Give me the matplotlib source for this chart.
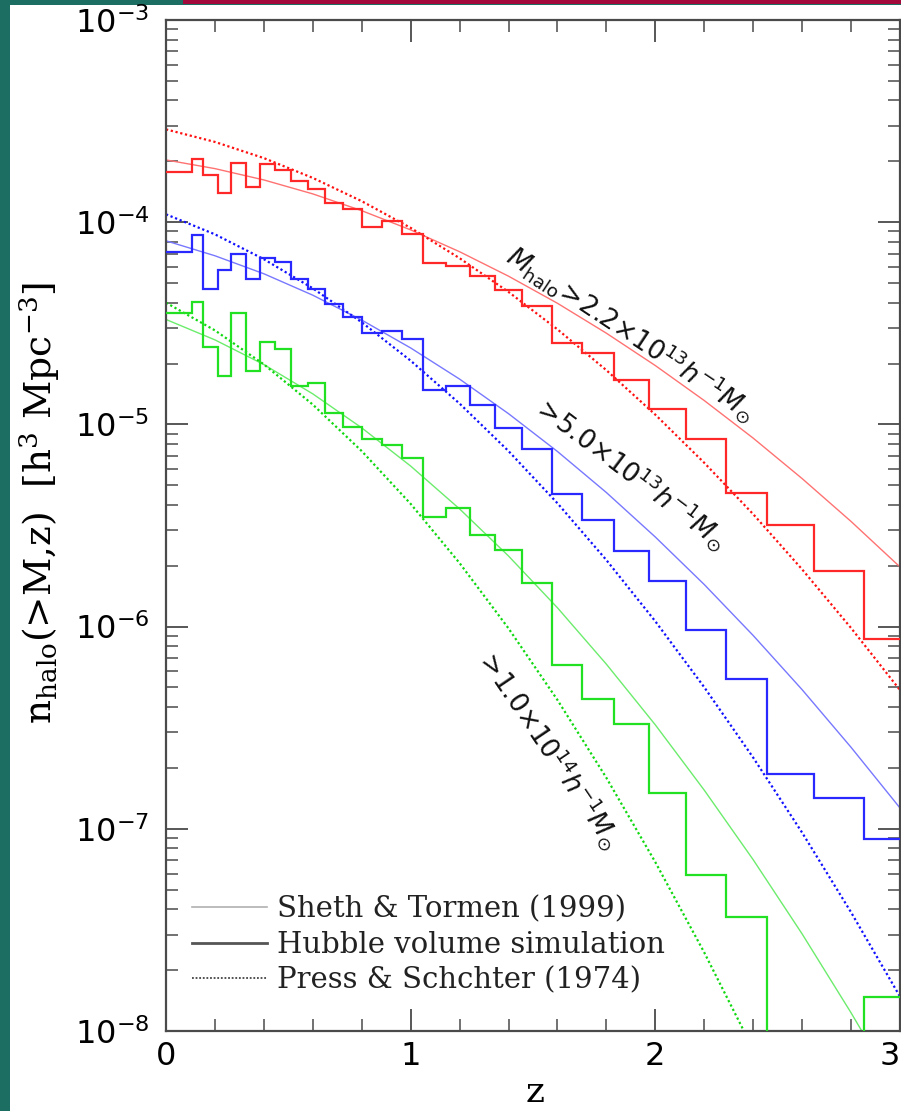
import matplotlib
matplotlib.use("Agg")
import matplotlib.pyplot as plt
from matplotlib.ticker import FixedLocator, NullFormatter, LogLocator, MultipleLocator
from matplotlib.lines import Line2D
from matplotlib.patches import Rectangle
import numpy as np

# ---------------- data ----------------
# redshift bin edges of the simulation histograms
z_edges = [0.000, 0.106, 0.151, 0.212, 0.265, 0.327, 0.384, 0.445, 0.510, 0.580,
           0.649, 0.722, 0.800, 0.882, 0.963, 1.049, 1.143, 1.241, 1.343, 1.453,
           1.576, 1.702, 1.833, 1.976, 2.127, 2.290, 2.457, 2.649, 2.853, 3.060]

# log10 n_halo(>M,z) of the Hubble volume simulation (-12 = empty bin)
log_sim_22e13 = [-3.750, -3.689, -3.767, -3.856, -3.706, -3.824, -3.714, -3.742, -3.796, -3.836,
                 -3.904, -3.936, -4.025, -3.994, -4.060, -4.200, -4.217, -4.266, -4.333, -4.412,
                 -4.597, -4.648, -4.780, -4.924, -5.072, -5.339, -5.497, -5.725, -6.061]
log_sim_50e13 = [-4.146, -4.063, -4.332, -4.236, -4.157, -4.280, -4.175, -4.195, -4.282, -4.332,
                 -4.405, -4.470, -4.549, -4.537, -4.579, -4.830, -4.810, -4.904, -5.018, -5.123,
                 -5.344, -5.473, -5.626, -5.774, -6.017, -6.259, -6.729, -6.848, -7.050]
log_sim_10e14 = [-4.448, -4.393, -4.615, -4.761, -4.449, -4.736, -4.592, -4.626, -4.810, -4.797,
                 -4.942, -5.015, -5.071, -5.100, -5.165, -5.456, -5.411, -5.547, -5.621, -5.786,
                 -6.190, -6.356, -6.482, -6.823, -7.229, -7.436, -12.0, -12.0, -7.832]

# analytic curves, sampled at these redshifts
z_curve = [0.0, 0.2, 0.4, 0.6, 0.8, 1.0, 1.2, 1.4, 1.6, 1.8, 2.0, 2.2, 2.4, 2.6, 2.8, 3.0]

log_st_22e13 = [-3.692, -3.735, -3.791, -3.860, -3.943, -4.038, -4.146, -4.267, -4.401, -4.549,
                -4.709, -4.882, -5.068, -5.268, -5.480, -5.705]
log_ps_22e13 = [-3.541, -3.603, -3.683, -3.781, -3.896, -4.028, -4.178, -4.345, -4.530, -4.732,
                -4.952, -5.190, -5.444, -5.717, -6.007, -6.314]
log_st_50e13 = [-4.092, -4.166, -4.255, -4.361, -4.484, -4.622, -4.776, -4.947, -5.134, -5.337,
                -5.557, -5.792, -6.044, -6.312, -6.597, -6.897]
log_ps_50e13 = [-3.961, -4.060, -4.183, -4.327, -4.495, -4.685, -4.897, -5.132, -5.390, -5.671,
                -5.974, -6.300, -6.648, -7.019, -7.413, -7.830]
log_st_10e14 = [-4.481, -4.582, -4.704, -4.849, -5.017, -5.206, -5.418, -5.651, -5.907, -6.186,
                -6.486, -6.809, -7.153, -7.520, -7.910, -8.321]
log_ps_10e14 = [-4.398, -4.535, -4.703, -4.902, -5.132, -5.393, -5.686, -6.009, -6.363, -6.748,
                -7.165, -7.612, -8.091, -8.600, -9.130, -9.680]

y_tick_exponents = [-3, -4, -5, -6, -7, -8]
x_tick_labels = ["0", "1", "2", "3"]
legend_labels = ["Sheth & Tormen (1999)", "Hubble volume simulation", "Press & Schchter (1974)"]
curve_labels = [r"$M_{\rm halo}\!>\!2.2{\times}10^{13}h^{-1}M_{\odot}$",
                r"$>\!5.0{\times}10^{13}h^{-1}M_{\odot}$",
                r"$>\!1.0{\times}10^{14}h^{-1}M_{\odot}$"]

# ---------------- figure ----------------
W, H = 901, 1111
fig = plt.figure(figsize=(W / 100, H / 100), dpi=100)
fig.patch.set_facecolor("white")

# decorative frame of the slide
fig.add_artist(Rectangle((0, 1 - 5 / H), 1, 5 / H, transform=fig.transFigure,
                         facecolor="#1d6e62", edgecolor="none", zorder=0))
fig.add_artist(Rectangle((183 / W, 1 - 3.5 / H), 1, 3.5 / H, transform=fig.transFigure,
                         facecolor="#a10a3a", edgecolor="none", zorder=1))
fig.add_artist(Rectangle((0, 0), 10 / W, 1, transform=fig.transFigure,
                         facecolor="#1d6e62", edgecolor="none", zorder=0))

ax = fig.add_axes([166 / W, 80 / H, 734 / W, 1011 / H])
ax.set_yscale("log")
ax.set_xlim(0, 3)
ax.set_ylim(1e-8, 1e-3)

sets = [
    (log_sim_22e13, log_st_22e13, log_ps_22e13, "#ff2828", "#ff7272", "#ff1010"),
    (log_sim_50e13, log_st_50e13, log_ps_50e13, "#2828ff", "#7878ff", "#1010ff"),
    (log_sim_10e14, log_st_10e14, log_ps_10e14, "#22e022", "#6cec6c", "#10d810"),
]
for sim, st, ps, c_sim, c_st, c_ps in sets:
    ax.plot(z_curve, 10 ** np.array(st), color=c_st, lw=1.0, zorder=2)
    ax.plot(z_curve, 10 ** np.array(ps), color=c_ps, lw=1.6, ls=(0, (1, 1.2)), zorder=2)
    ax.stairs(10 ** np.array(sim), z_edges, baseline=None, color=c_sim, lw=1.6, zorder=3)

# curve labels
ax.text(1.902, 2.8e-5, curve_labels[0], rotation=-33.5, fontsize=19,
        ha="center", va="center", color="#111111", family="DejaVu Sans")
ax.text(1.898, 5.75e-6, curve_labels[1], rotation=-37, fontsize=19,
        ha="center", va="center", color="#111111", family="DejaVu Sans")
ax.text(1.563, 2.51e-7, curve_labels[2], rotation=-56, fontsize=19,
        ha="center", va="center", color="#111111", family="DejaVu Sans")

# ticks
frame_col = "#4a4a4a"
for s in ax.spines.values():
    s.set_color(frame_col)
    s.set_linewidth(1.6)
ax.yaxis.set_major_locator(FixedLocator([10.0 ** e for e in y_tick_exponents]))
ax.yaxis.set_minor_locator(LogLocator(base=10, subs=np.arange(2, 10), numticks=20))
ax.yaxis.set_minor_formatter(NullFormatter())
ax.set_yticklabels([r"$10^{%d}$" % e for e in y_tick_exponents])
ax.xaxis.set_major_locator(FixedLocator([0, 1, 2, 3]))
ax.xaxis.set_minor_locator(MultipleLocator(0.2))
ax.set_xticklabels(x_tick_labels)
ax.tick_params(which="both", direction="in", top=True, right=True, color=frame_col)
ax.tick_params(which="major", length=16, width=1.3, labelsize=23, pad=12)
ax.tick_params(which="minor", length=8.5, width=1.1)
ax.tick_params(axis="x", which="major", pad=7)
# keep the last x label inside the picture
ax.get_xticklabels()[-1].set_horizontalalignment("right")

# axis labels
fig.text(40 / W, 1 - 503 / H, r"n$_{\rm halo}$(>M,z)  [h$^3$ Mpc$^{-3}$]",
         rotation=90, ha="center", va="center", fontsize=27, family="DejaVu Serif",
         math_fontfamily="dejavuserif")
fig.text(535 / W, 2 / H, "z", ha="center", va="bottom", fontsize=26,
         family="DejaVu Serif")

# legend
handles = [Line2D([], [], color="#b0b0b0", lw=1.2),
           Line2D([], [], color="#555555", lw=2.0),
           Line2D([], [], color="#444444", lw=1.3, ls=(0, (1, 1)))]
leg = ax.legend(handles, legend_labels, loc="lower left",
                bbox_to_anchor=(0.0, 0.010), frameon=False,
                prop={"family": "DejaVu Serif", "size": 21},
                handlelength=2.55, handletextpad=0.34, labelspacing=0.26)
for t in leg.get_texts():
    t.set_color("#222222")

fig.savefig("out.png", dpi=100)
